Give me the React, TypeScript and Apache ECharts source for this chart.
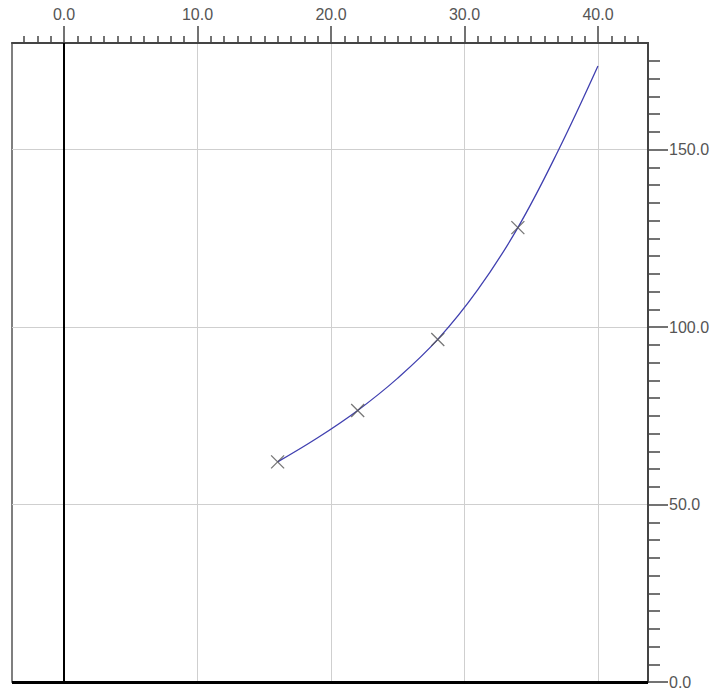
import React, { useEffect, useRef } from "react";
import * as echarts from "echarts";

// Axis extents and labelled ticks
const xMin = -3.9;
const xMax = 43.75;
const yMin = 0;
const yMax = 180;
const xTickValues = [0, 10, 20, 30, 40];
const yTickValues = [0, 50, 100, 150];

// Measured samples (X markers)
const sampleX = [16, 22, 28, 34];
const sampleY = [62, 76.5, 96.5, 128];

// Fitted curve
const curveX = [16, 19, 22, 25, 28, 31, 34, 37, 40];
const curveY = [62, 68.8, 76.5, 85.6, 96.5, 110.5, 128, 149.5, 173.5];

const FONT = "Liberation Sans";

export default function App() {
  const ref = useRef<HTMLDivElement>(null);

  useEffect(() => {
    if (!ref.current) return;
    const chart = echarts.init(ref.current, undefined, { renderer: "svg" });
    const fmt = (v: number) => v.toFixed(1);
    chart.setOption({
      animation: false,
      backgroundColor: "#fff",
      grid: {
        left: 12,
        right: 65,
        top: 43,
        bottom: 8,
        show: true,
        borderColor: "#555",
        borderWidth: 1.5,
        backgroundColor: "#fff",
      },
      xAxis: {
        type: "value",
        position: "top",
        min: xMin,
        max: xMax,
        splitNumber: 5,
        axisLine: { show: true, onZero: false, lineStyle: { color: "#444", width: 2 } },
        axisTick: {
          show: true,
          length: 17,
          customValues: xTickValues,
          lineStyle: { color: "#444", width: 1.5 },
        },
        minorTick: {
          show: true,
          splitNumber: 10,
          length: 7,
          lineStyle: { color: "#444", width: 1.5 },
        },
        axisLabel: {
          customValues: xTickValues,
          formatter: fmt,
          margin: 21,
          color: "#555",
          fontSize: 16,
          fontFamily: FONT,
        },
        splitLine: { show: true, lineStyle: { color: "#cfcfcf", width: 1 } },
      },
      yAxis: {
        type: "value",
        position: "right",
        min: yMin,
        max: yMax,
        interval: 50,
        axisLine: { show: true, onZero: false, lineStyle: { color: "#444", width: 2 } },
        axisTick: {
          show: true,
          length: 20,
          customValues: yTickValues,
          lineStyle: { color: "#444", width: 1.5 },
        },
        minorTick: {
          show: true,
          splitNumber: 10,
          length: 12,
          lineStyle: { color: "#444", width: 1.5 },
        },
        axisLabel: {
          customValues: yTickValues,
          formatter: fmt,
          margin: 21,
          color: "#555",
          fontSize: 16,
          fontFamily: FONT,
        },
        splitLine: { show: true, lineStyle: { color: "#cfcfcf", width: 1 } },
      },
      series: [
        {
          type: "line",
          data: curveX.map((x, i) => [x, curveY[i]]),
          smooth: 0.4,
          showSymbol: false,
          lineStyle: { color: "#4040b0", width: 1.3 },
          z: 3,
          markLine: {
            silent: true,
            symbol: "none",
            label: { show: false },
            animation: false,
            data: [
              { xAxis: 0, lineStyle: { color: "#000", width: 2, type: "solid" } },
              { yAxis: 0, lineStyle: { color: "#000", width: 3, type: "solid" } },
            ],
          },
        },
        {
          type: "scatter",
          data: sampleX.map((x, i) => [x, sampleY[i]]),
          symbol: "path://M0,0L10,10M10,0L0,10",
          symbolSize: 13,
          itemStyle: { color: "none", borderColor: "#555", borderWidth: 1.3 },
          z: 4,
        },
      ],
    });
    return () => chart.dispose();
  }, []);

  return (
    <div
      ref={ref}
      style={{ position: "absolute", left: 0, top: 0, width: 713, height: 690 }}
    />
  );
}
